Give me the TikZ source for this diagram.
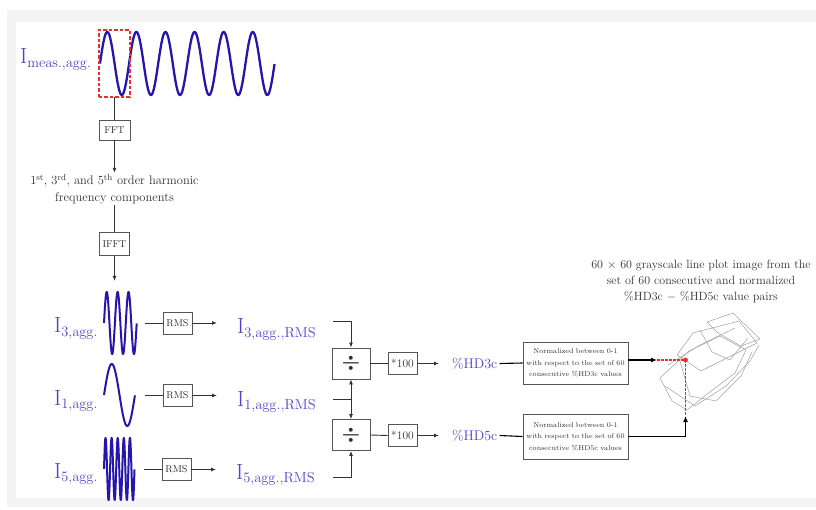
\documentclass[tikz,border=0pt]{standalone}
\usepackage{amsmath}
\usetikzlibrary{arrows.meta}
\definecolor{wavec}{RGB}{38,22,170}
\definecolor{lblue}{RGB}{78,66,200}
\definecolor{redd}{RGB}{235,45,45}
\definecolor{boxc}{RGB}{85,85,85}
\definecolor{txtc}{RGB}{50,50,50}
\definecolor{bggray}{RGB}{244,244,244}
\definecolor{plotc}{RGB}{160,160,160}
\tikzset{
  wave/.style={draw=wavec, line width=2.3pt, line join=round},
  lbl/.style={text=lblue, font=\fontsize{22}{24}\selectfont, inner sep=0pt},
  smbox/.style={draw=boxc, line width=0.9pt, text=txtc, font=\fontsize{10}{12}\selectfont, inner sep=1pt, minimum height=22pt},
  divbox/.style={draw=boxc, line width=0.9pt, text=txtc, minimum width=38pt, minimum height=31pt, inner sep=0pt, font=\fontsize{22}{24}\selectfont},
  normbox/.style={draw=boxc, line width=0.9pt, text=txtc, minimum width=105pt, inner sep=1pt, text width=103pt, align=center, font=\fontsize{7.1}{11.5}\selectfont},
  conn/.style={draw=txtc, line width=0.9pt},
  arr/.style={conn, -{Latex[length=5pt,width=4pt]}},
  thk/.style={draw=black, line width=1.6pt},
  thkarr/.style={thk, -{Latex[length=6pt,width=5pt]}},
  reddash/.style={draw=redd, line width=1.6pt, dash pattern=on 2.5pt off 1.5pt},
  pline/.style={draw=plotc, line width=0.5pt, line join=round},
  hd/.style={text=lblue, font=\fontsize{14}{15}\selectfont, inner sep=2pt},
}
\begin{document}
\begin{tikzpicture}[x=1pt,y=-1pt]
\useasboundingbox (0,0) rectangle (816,510);
% frame
\fill[bggray] (7,10) rectangle (816,507);
\fill[white] (16,22) rectangle (816,498);

% main waveform
\draw[wave] plot[domain=0:6, samples=400, smooth] ({100+\x*29.1},{63.5-31.5*sin(\x*360)});
\node[minimum width=30pt, minimum height=67pt, inner sep=0pt] (rbox) at (114.5,63.5) {};
\draw[draw=redd, line width=1.8pt, dash pattern=on 3.5pt off 2pt] (rbox.south west) rectangle (rbox.north east);
\node[lbl, anchor=base west] (lmeas) at (20,64) {I$_{\mathrm{meas.,agg.}}$};

% FFT
\node[smbox, minimum width=31pt, minimum height=20pt] (fft) at (114.5,130) {FFT};
\draw[conn] (rbox.south) -- (fft.north);
\node[text=txtc, align=center, font=\fontsize{12.5}{17}\selectfont, inner sep=1pt] (harm) at (114.5,189)
  {1\textsuperscript{st}, 3\textsuperscript{rd}, and 5\textsuperscript{th} order harmonic\\frequency components};
\draw[arr] (fft.south) -- (harm.north -| fft.south);
\node[smbox, minimum width=30pt, minimum height=23pt] (ifft) at (114.5,244) {IFFT};
\draw[conn] (harm.south -| ifft.north) -- (ifft.north);
\coordinate (w3in) at (114.5,281);
\draw[arr] (ifft.south) -- (w3in);

% component waveforms
\draw[wave, line width=2pt] plot[domain=0:3, samples=300, smooth] ({104+\x*10.9},{323-31*sin(\x*360)});
\draw[wave, line width=2pt] plot[domain=0:1, samples=150, smooth] ({104+\x*31},{395-31*sin(\x*360)});
\draw[wave, line width=2pt] plot[domain=0:5, samples=400, smooth] ({104+\x*6.1},{469-31*sin(\x*360)});

\node[lbl, anchor=base west] (l3) at (54,333) {I$_{\mathrm{3,agg.}}$};
\node[lbl, anchor=base west] (l1) at (54,405) {I$_{\mathrm{1,agg.}}$};
\node[lbl, anchor=base west] (l5) at (54,478) {I$_{\mathrm{5,agg.}}$};

% RMS rows
\node[smbox, minimum width=29pt] (rms3) at (177.5,323) {RMS};
\node[smbox, minimum width=29pt] (rms1) at (177.5,395.5) {RMS};
\node[smbox, minimum width=29pt] (rms5) at (176.5,469.5) {RMS};
\coordinate (s3) at (145,323); \coordinate (e3) at (217,323);
\coordinate (s1) at (145,395.5); \coordinate (e1) at (217,395.5);
\coordinate (s5) at (144,469.5); \coordinate (e5) at (216,469.5);
\draw[conn] (s3) -- (rms3.west); \draw[arr] (rms3.east) -- (e3);
\draw[conn] (s1) -- (rms1.west); \draw[arr] (rms1.east) -- (e1);
\draw[conn] (s5) -- (rms5.west); \draw[arr] (rms5.east) -- (e5);

\node[lbl, anchor=base west] (r3) at (237,334) {I$_{\mathrm{3,agg.,RMS}}$};
\node[lbl, anchor=base west] (r1) at (237,406) {I$_{\mathrm{1,agg.,RMS}}$};
\node[lbl, anchor=base west] (r5) at (236,479) {I$_{\mathrm{5,agg.,RMS}}$};

% dividers
\node[divbox] (div1) at (351,363.5) {$\boldsymbol{\div}$};
\node[divbox] (div2) at (351,435) {$\boldsymbol{\div}$};
\coordinate (c3) at (333,321);
\coordinate (c1) at (333,399);
\coordinate (j) at (351,399);
\coordinate (c5) at (333,477);
\draw[arr] (c3) -| (div1.north);
\draw[conn] (c1) -- (j);
\draw[arr] (j) -- (div1.south);
\draw[arr] (j) -- (div2.north);
\draw[arr] (c5) -| (div2.south);

% *100
\node[smbox, minimum width=29pt, font=\fontsize{11.5}{12}\selectfont] (m1) at (402.5,363.5) {*100};
\node[smbox, minimum width=29pt, font=\fontsize{11.5}{12}\selectfont] (m2) at (402.5,435.5) {*100};
\draw[conn] (div1.east) -- (m1.west);
\draw[conn] (div2.east) -- (m2.west);
\node[hd, anchor=west] (hd3) at (450,363.5) {\%HD3c};
\node[hd, anchor=west] (hd5) at (450,435.5) {\%HD5c};
\draw[arr, shorten >=11pt] (m1.east) -- (hd3.west);
\draw[arr, shorten >=11pt] (m2.east) -- (hd5.west);

% normalisation boxes
\node[normbox, minimum height=42pt] (n1) at (575.5,363) {Normalized between 0-1\\with respect to the set of 60\\consecutive \%HD3c values};
\node[normbox, minimum height=45pt] (n2) at (575.5,436.5) {Normalized between 0-1\\with respect to the set of 60\\consecutive \%HD5c values};
\draw[thk, line width=1.1pt] (hd3.east) -- (n1.west);
\draw[thk, line width=1.1pt] (hd5.east) -- (n2.west);

% caption
\node[text=txtc, align=center, font=\fontsize{12}{16}\selectfont, inner sep=0pt] (cap) at (701,281)
  {60 $\times$ 60 grayscale line plot image from the\\set of 60 consecutive and normalized\\\%HD3c $-$ \%HD5c value pairs};

% line plot image
\draw[pline] (707,322) -- (733,313) -- (760,339) -- (741,346) -- (718,333) -- cycle;
\draw[pline] (693,333) -- (739,321) -- (757,343) -- (701,371) -- (677,355) -- cycle;
\draw[pline] (660,378) -- (689,351) -- (720,336) -- (746,350) -- (735,373) -- (706,395) -- (687,410) -- (672,401) -- cycle;
\draw[pline] (665,386) -- (695,406) -- (726,386) -- (750,361) -- (759,345);
\draw[pline] (680,361) -- (690,396) -- (716,401) -- (741,376) -- (752,352);
\draw[pline] (700,330) -- (712,352) -- (730,360) -- (748,338);
\draw[pline] (668,365) -- (700,345) -- (735,328);

% pointer
\coordinate (dot) at (685.5,360);
\coordinate (a1) at (657,360);
\coordinate (a2) at (685.5,416);
\draw[reddash] (a1) -- (dot);
\draw[reddash] (dot) -- (a2);
\fill[redd] (dot) circle (2.4pt);
\draw[thkarr] (n1.east |- dot) -- (a1);
\draw[thkarr] (n2.east) -| (a2);
\end{tikzpicture}
\end{document}
